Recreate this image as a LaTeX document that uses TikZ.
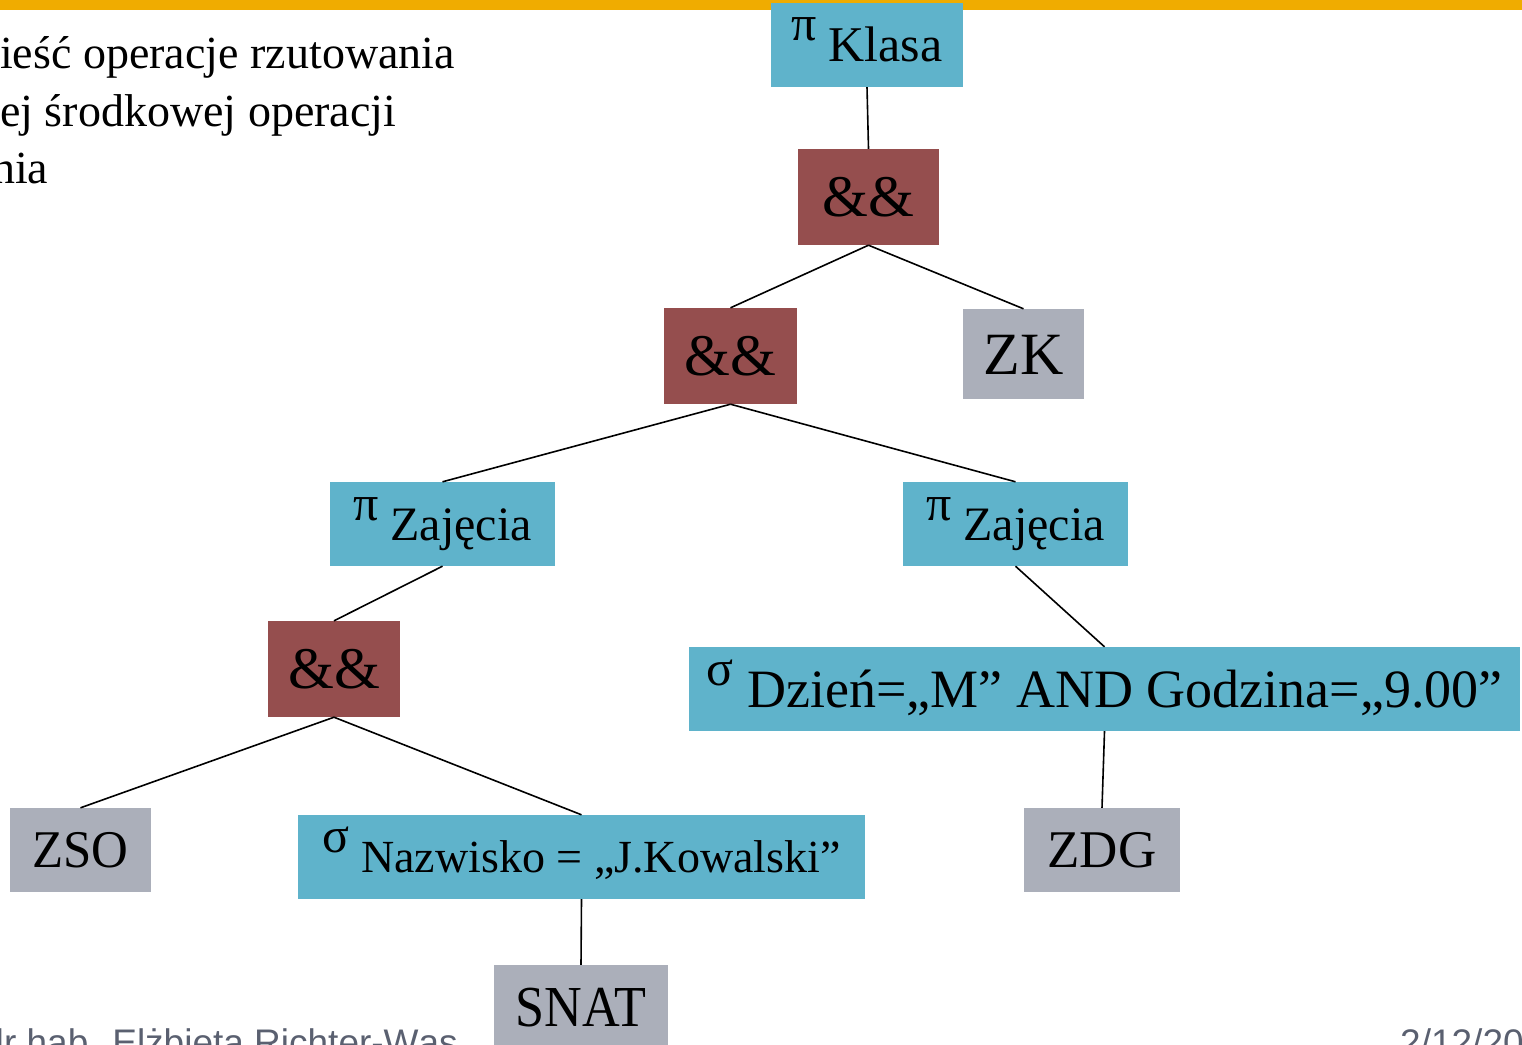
\documentclass[tikz,border=0pt]{standalone}
\usepackage{fontspec}
\setmainfont{Liberation Serif}
\newfontfamily\footfont{Liberation Sans}
\definecolor{barorange}{RGB}{240,172,0}
\definecolor{nodeblue}{RGB}{95,179,203}
\definecolor{nodered}{RGB}{149,78,78}
\definecolor{nodegray}{RGB}{171,175,186}
\definecolor{footgray}{RGB}{90,96,112}
\newcommand\fsz[1]{\fontsize{#1}{#1}\selectfont}
\newcommand\opsym[3]{\raisebox{#2}{\fsz{50}#1}\hspace{#3}}
\begin{document}
\begin{tikzpicture}[x=1pt,y=-1pt,
  box/.style={inner sep=0pt, text depth=0pt, anchor=center},
  bluebox/.style={box, fill=nodeblue},
  redbox/.style={box, fill=nodered},
  graybox/.style={box, fill=nodegray},
  conn/.style={line width=1.6pt},
  introtext/.style={anchor=base west, inner sep=0pt, font=\fsz{46}},
  foottext/.style={inner sep=0pt, font=\footfont\fsz{37}, text=footgray}]
\useasboundingbox (0,0) rectangle (1522,1044);
\begin{scope}
\clip (0,0) rectangle (1522,1044);
\fill[barorange] (0,0) rectangle (1522,10);

\node[introtext] (intro1) at (0,68) {ieść operacje rzutowania};
\node[introtext] (intro2) at (0,126) {ej środkowej operacji};
\node[introtext] (intro3) at (-8,183) {nia};

\node[foottext, anchor=base east] (author) at (458,1055) {dr hab. Elżbieta Richter-Wąs};
\node[foottext, anchor=base west] (date) at (1400,1055) {2/12/20};

\node[bluebox, minimum width=192pt, minimum height=84pt, text height=33pt] (klasa) at (867,45)
  {\opsym{π}{21pt}{12pt}\fsz{50}Klasa};
\node[redbox, minimum width=141pt, minimum height=96pt, text height=39pt] (and1) at (868.5,197)
  {\fsz{59}\&\&};
\node[redbox, minimum width=133pt, minimum height=96pt, text height=39pt] (and2) at (730.5,356)
  {\fsz{59}\&\&};
\node[graybox, minimum width=121pt, minimum height=90pt, text height=40pt] (zk) at (1023.5,354)
  {\fsz{60}ZK};
\node[bluebox, minimum width=225pt, minimum height=84pt, text height=32pt] (zajL) at (442.5,524)
  {\opsym{π}{20pt}{12pt}\fsz{48}Zajęcia};
\node[bluebox, minimum width=225pt, minimum height=84pt, text height=32pt] (zajR) at (1015.5,524)
  {\opsym{π}{20pt}{12pt}\fsz{48}Zajęcia};
\node[redbox, minimum width=132pt, minimum height=96pt, text height=39pt] (and3) at (334,669)
  {\fsz{59}\&\&};
\node[bluebox, minimum width=831pt, minimum height=84pt, text height=36pt] (dzien) at (1104.5,689)
  {\opsym{σ}{22pt}{14pt}\fsz{54}Dzień=„M” AND Godzina=„9.00”};
\node[graybox, minimum width=141pt, minimum height=84pt, text height=35pt] (zso) at (80.5,850)
  {\fsz{53}\scalebox{0.96}[1]{ZSO}};
\node[bluebox, minimum width=567pt, minimum height=84pt, text height=30pt] (nazw) at (581.5,857)
  {\opsym{σ}{20pt}{12pt}\fsz{46}Nazwisko = „J.Kowalski”};
\node[graybox, minimum width=156pt, minimum height=84pt, text height=35pt] (zdg) at (1102,850)
  {\fsz{53}ZDG};
\node[graybox, minimum width=174pt, minimum height=84pt, text height=38pt] (snat) at (581,1007)
  {\fsz{58}\scalebox{0.9}[1]{SNAT}};

\draw[conn] (klasa.south) -- (and1.north);
\draw[conn] (and1.south) -- (and2.north);
\draw[conn] (and1.south) -- (zk.north);
\draw[conn] (and2.south) -- (zajL.north);
\draw[conn] (and2.south) -- (zajR.north);
\draw[conn] (zajL.south) -- (and3.north);
\draw[conn] (zajR.south) -- (dzien.north);
\draw[conn] (and3.south) -- (zso.north);
\draw[conn] (and3.south) -- (nazw.north);
\draw[conn] (dzien.south) -- (zdg.north);
\draw[conn] (nazw.south) -- (snat.north);
\end{scope}
\end{tikzpicture}
\end{document}
